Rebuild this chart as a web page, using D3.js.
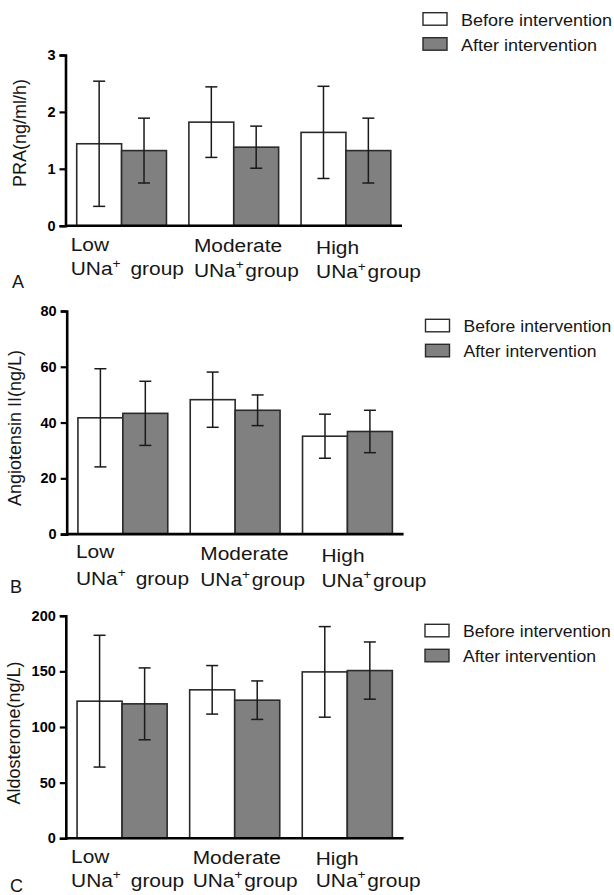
<!DOCTYPE html>
<html><head><meta charset="utf-8">
<script src="https://cdn.jsdelivr.net/npm/d3@7"></script>
<style>
html,body{margin:0;padding:0;background:#fff;}
svg{display:block;font-family:"Liberation Sans",Arial,Helvetica,sans-serif;}
</style></head>
<body><svg id="chart" width="614" height="895"></svg>
<script>
// ---- data ----
const categories = ["Low", "Moderate", "High"];
const labelLine2Prefix = ["UNa", "UNa", "UNa"];
const labelLine2Sup = ["+", "+", "+"];
const labelLine2Suffix = ["group", "group", "group"];
const seriesNames = ["Before intervention", "After intervention"];

const praBefore = [1.44, 1.82, 1.64];
const praBeforeSD = [1.10, 0.62, 0.81];
const praAfter = [1.32, 1.38, 1.32];
const praAfterSD = [0.57, 0.37, 0.57];
const praTicks = [0, 1, 2, 3];

const angBefore = [41.7, 48.2, 35.1];
const angBeforeSD = [17.6, 9.9, 7.9];
const angAfter = [43.3, 44.4, 36.8];
const angAfterSD = [11.5, 5.5, 7.6];
const angTicks = [0, 20, 40, 60, 80];

const aldBefore = [123.2, 133.4, 149.5];
const aldBeforeSD = [59.2, 21.8, 40.7];
const aldAfter = [120.8, 124.1, 150.7];
const aldAfterSD = [32.3, 17.3, 25.7];
const aldTicks = [0, 50, 100, 150, 200];

// ---- layout ----
const panels = [
  {letter:"A", title:"PRA(ng/ml/h)", before:praBefore, beforeSD:praBeforeSD, after:praAfter, afterSD:praAfterSD, ticks:praTicks,
   left:65.5, right:402, top:55, bottom:225.7, titleX:25.5, titleY:133, letterX:12, letterY:288,
   legX:423, legY:12.7, legScale:1.06, labelDx:[-6,5,15], line1:[25,26.5,28.5], line2:[49.5,51,52.5]},
  {letter:"B", title:"Angiotensin II(ng/L)", before:angBefore, beforeSD:angBeforeSD, after:angAfter, afterSD:angAfterSD, ticks:angTicks,
   left:66.7, right:403.6, top:311, bottom:534.1, titleX:21, titleY:428, letterX:10, letterY:593,
   legX:425.5, legY:319.3, legScale:1.035, labelDx:[-2,10,19], line1:[24,26,27.5], line2:[50.5,52,52.5]},
  {letter:"C", title:"Aldosterone(ng/L)", before:aldBefore, beforeSD:aldBeforeSD, after:aldAfter, afterSD:aldAfterSD, ticks:aldTicks,
   left:65.8, right:403.6, top:615.7, bottom:838.3, titleX:20, titleY:733, letterX:10, letterY:891.5,
   legX:425, legY:624.3, legScale:1.035, labelDx:[-6,3,13.5], line1:[25,26,27], line2:[48.5,48.5,48.5]}
];
const line2Gap = [9, 1.5, 1.5];
const fills = ["#ffffff", "#808080"];
const textColor = "#161616";

const svg = d3.select("#chart");
svg.append("rect").attr("width",614).attr("height",895).attr("fill","#fff");

panels.forEach(p => {
  const g = svg.append("g");
  const ymax = p.ticks[p.ticks.length-1];
  const y = d3.scaleLinear().domain([0, ymax]).range([p.bottom, p.top]);
  const x = d3.scaleBand().domain(categories).range([p.left, p.right]).paddingInner(0.2).paddingOuter(0.1);
  const xs = d3.scaleBand().domain(seriesNames).range([0, x.bandwidth()]).padding(0);

  const rows = categories.map((c,i) => [
    {cat:c, s:seriesNames[0], v:p.before[i], sd:p.beforeSD[i], fill:fills[0]},
    {cat:c, s:seriesNames[1], v:p.after[i], sd:p.afterSD[i], fill:fills[1]}
  ]).flat();

  // bars
  g.selectAll("rect.bar").data(rows).join("rect")
    .attr("class","bar")
    .attr("x", d => x(d.cat) + xs(d.s))
    .attr("width", xs.bandwidth())
    .attr("y", d => y(d.v))
    .attr("height", d => y(0) - y(d.v))
    .attr("fill", d => d.fill)
    .attr("stroke", "#2a2a2a").attr("stroke-width", 1.6);

  // error bars
  const eb = g.selectAll("g.err").data(rows).join("g").attr("class","err")
    .attr("stroke","#1a1a1a").attr("stroke-width",1.5);
  const cx = d => x(d.cat) + xs(d.s) + xs.bandwidth()/2;
  eb.append("line").attr("x1",cx).attr("x2",cx).attr("y1",d=>y(d.v+d.sd)).attr("y2",d=>y(Math.max(0,d.v-d.sd)));
  eb.append("line").attr("x1",d=>cx(d)-6).attr("x2",d=>cx(d)+6).attr("y1",d=>y(d.v+d.sd)).attr("y2",d=>y(d.v+d.sd));
  eb.append("line").attr("x1",d=>cx(d)-6).attr("x2",d=>cx(d)+6).attr("y1",d=>y(d.v-d.sd)).attr("y2",d=>y(d.v-d.sd));

  // y axis
  const ya = g.append("g").attr("transform",`translate(${p.left},0)`)
    .call(d3.axisLeft(y).tickValues(p.ticks).tickSize(6).tickPadding(4).tickFormat(d3.format("d")));
  ya.select(".domain").attr("stroke","#000").attr("stroke-width",2.6);
  ya.selectAll(".tick line").attr("stroke","#000").attr("stroke-width",2.2);
  ya.selectAll(".tick text").attr("fill","#000").style("font-size","14.5px").style("font-weight","bold")
    .style("font-family",'"Liberation Sans",Arial,sans-serif');

  // x axis line
  g.append("line").attr("x1",p.left).attr("x2",p.right).attr("y1",y(0)).attr("y2",y(0))
    .attr("stroke","#000").attr("stroke-width",2.6);

  // category labels (slightly wide, as in the source figure)
  categories.forEach((c,i) => {
    const lx = x(c) + p.labelDx[i];
    g.append("text").attr("transform",`translate(${lx},${p.bottom + p.line1[i]}) scale(1.1,1)`)
      .style("font-size","19px").attr("fill",textColor).text(c);
    const t = g.append("text").attr("transform",`translate(${lx},${p.bottom + p.line2[i]}) scale(1.1,1)`)
      .style("font-size","19px").attr("fill",textColor);
    t.append("tspan").text(labelLine2Prefix[i]);
    t.append("tspan").attr("dy",-7.5).style("font-size","12.5px").text(labelLine2Sup[i]);
    t.append("tspan").attr("dy",7.5).attr("dx",line2Gap[i]).text(labelLine2Suffix[i]);
  });

  // y title
  g.append("text").attr("transform",`translate(${p.titleX},${p.titleY}) rotate(-90)`)
    .attr("text-anchor","middle").style("font-size","18px").attr("fill",textColor).text(p.title);

  // panel letter
  g.append("text").attr("x",p.letterX).attr("y",p.letterY).style("font-size","18px").attr("fill",textColor).text(p.letter);

  // legend
  seriesNames.forEach((s,i) => {
    const ly = p.legY + i*25;
    g.append("rect").attr("x",p.legX).attr("y",ly).attr("width",24).attr("height",12.5)
      .attr("fill",fills[i]).attr("stroke","#2a2a2a").attr("stroke-width",1.4);
    g.append("text").attr("transform",`translate(${p.legX+38},${ly+12.8}) scale(${p.legScale},1)`)
      .style("font-size","17px").attr("fill",textColor).text(s);
  });
});
</script></body></html>
